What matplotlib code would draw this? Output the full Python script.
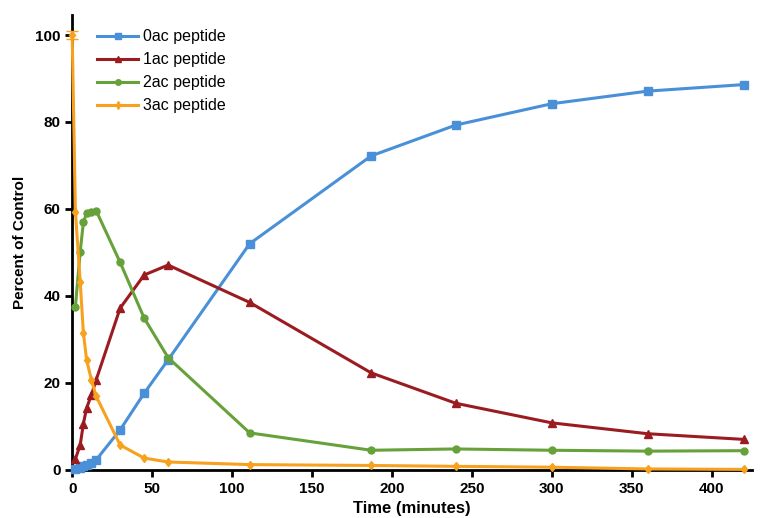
import numpy as np
import matplotlib.pyplot as plt

plt.rcParams['font.family'] = ['Liberation Sans', 'DejaVu Sans']

# time points (minutes)
time_min = [2, 5, 7, 9, 12, 15, 30, 45, 60, 111, 187, 240, 300, 360, 420]
time_3ac = [0, 2, 5, 7, 9, 12, 15, 30, 45, 60, 111, 187, 240, 300, 360, 420]

pct_0ac = [0.3, 0.5, 0.8, 1.2, 1.6, 2.3, 9.2, 17.6, 25.3, 52.0, 72.2, 79.3, 84.2, 87.1, 88.6]
pct_1ac = [2.5, 5.7, 10.6, 14.2, 17.2, 20.7, 37.2, 44.8, 47.1, 38.5, 22.3, 15.3, 10.8, 8.3, 7.0]
pct_2ac = [37.5, 50.2, 56.9, 59.0, 59.4, 59.6, 47.7, 34.9, 25.8, 8.5, 4.5, 4.8, 4.5, 4.3, 4.4]
pct_3ac = [100.0, 59.4, 43.3, 31.5, 25.3, 20.7, 16.9, 5.7, 2.7, 1.8, 1.2, 1.0, 0.8, 0.6, 0.2, 0.1]
err_3ac_t0 = 1.0

series_labels = ['0ac peptide', '1ac peptide', '2ac peptide', '3ac peptide']
colors = ['#4a90d9', '#9b1c20', '#67a13a', '#f7a11e']
y_ticks = [0, 20, 40, 60, 80, 100]
x_ticks = [0, 50, 100, 150, 200, 250, 300, 350, 400]

fig = plt.figure(figsize=(7.6, 5.18), dpi=100)
ax = fig.add_axes([0.095, 0.093, 0.894, 0.878])

ax.plot(time_min, pct_0ac, color=colors[0], marker='s', markersize=6, lw=2.2, label=series_labels[0], clip_on=False, zorder=3)
ax.plot(time_min, pct_1ac, color=colors[1], marker='^', markersize=6, lw=2.2, label=series_labels[1], clip_on=False, zorder=3)
ax.plot(time_min, pct_2ac, color=colors[2], marker='o', markersize=5, lw=2.2, label=series_labels[2], clip_on=False, zorder=3)
ax.plot(time_3ac, pct_3ac, color=colors[3], marker='d', markersize=4.5, lw=2.2, label=series_labels[3], clip_on=False, zorder=4)
ax.errorbar([time_3ac[0]], [pct_3ac[0]], yerr=[err_3ac_t0], color=colors[3], capsize=4, lw=1.5, clip_on=False, zorder=4)

ax.set_xlim(0, 425)
ax.set_ylim(0, 104.6)
ax.set_xticks(x_ticks)
ax.set_yticks(y_ticks)

for side in ['top', 'right']:
    ax.spines[side].set_visible(False)
for side in ['left', 'bottom']:
    ax.spines[side].set_linewidth(2)
ax.tick_params(axis='both', direction='out', length=5, width=2, labelsize=11)
for lbl in ax.get_xticklabels() + ax.get_yticklabels():
    lbl.set_fontweight('bold')

ax.set_xlabel('Time (minutes)', fontsize=12, fontweight='bold', labelpad=4)
ax.set_ylabel('Percent of Control', fontsize=11, fontweight='bold', labelpad=6)

ax.legend(loc='upper left', bbox_to_anchor=(0.015, 1.0), frameon=False, fontsize=11.5,
          handlelength=2.6, handletextpad=0.3, labelspacing=0.5, markerscale=0.8)

fig.savefig('out.png', dpi=100)
